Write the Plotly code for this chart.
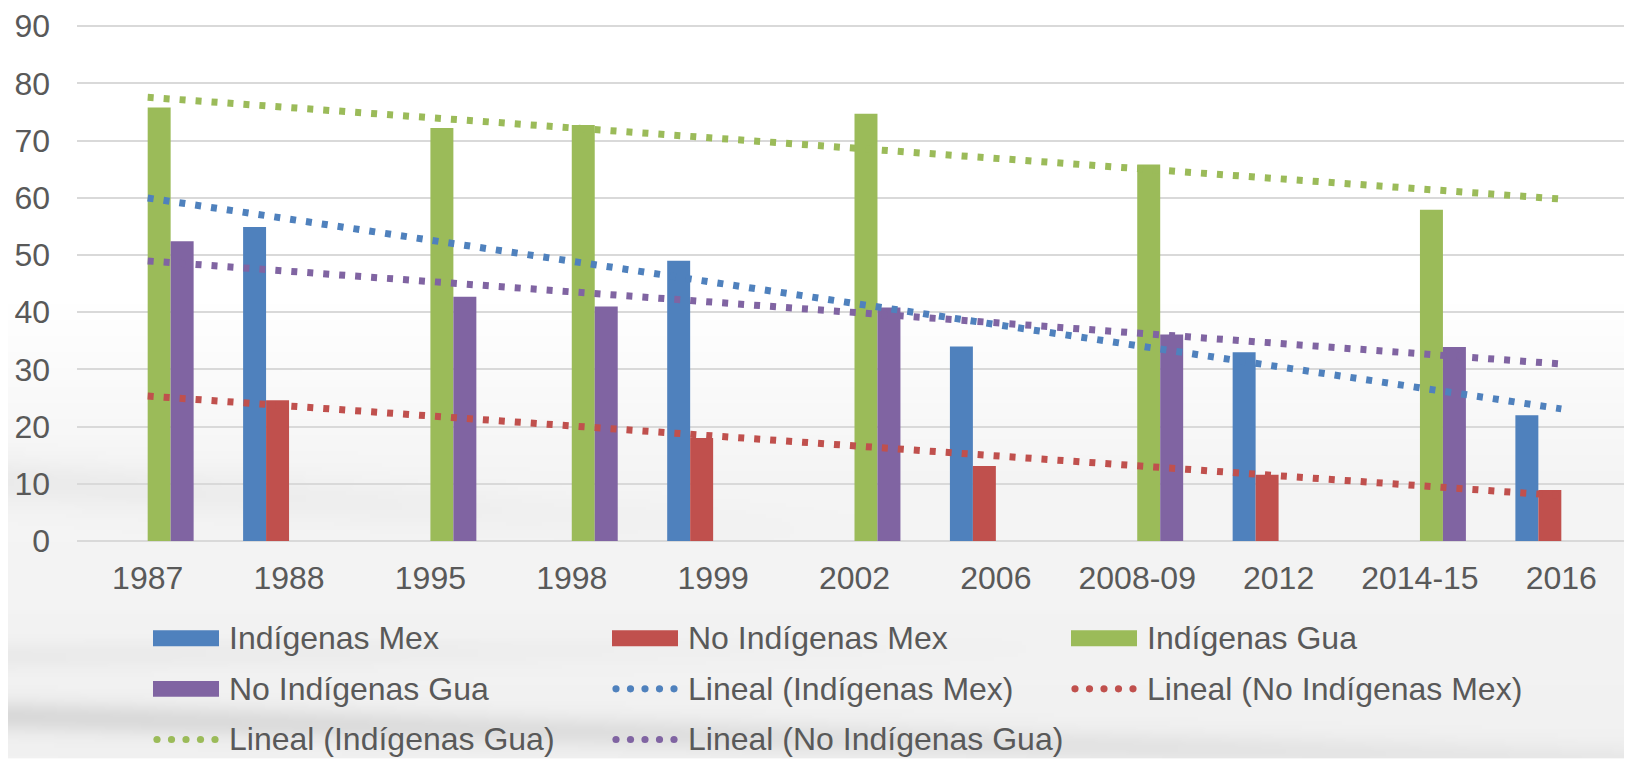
import base64
import struct
import zlib

import numpy as np
import plotly.graph_objects as go

# ---------------- data ----------------
categories = ["1987", "1988", "1995", "1998", "1999", "2002", "2006",
              "2008-09", "2012", "2014-15", "2016"]
indigenas_mex = [None, 54.9, None, None, 49.0, None, 34.0, None, 33.0, None, 22.0]
no_indigenas_mex = [None, 24.6, None, None, 18.0, None, 13.1, None, 11.6, None, 8.9]
indigenas_gua = [75.8, None, 72.2, 72.7, None, 74.7, None, 65.8, None, 57.9, None]
no_indigenas_gua = [52.4, None, 42.7, 41.0, None, 40.8, None, 36.1, None, 33.9, None]

series_names = ["Indígenas Mex", "No Indígenas Mex", "Indígenas Gua", "No Indígenas Gua"]
series_values = [indigenas_mex, no_indigenas_mex, indigenas_gua, no_indigenas_gua]
series_colors = ["#4F81BD", "#C0504D", "#9BBB59", "#8064A2"]
y_ticks = [0, 10, 20, 30, 40, 50, 60, 70, 80, 90]

# ---------------- geometry helpers ----------------
OFF = 8                      # default page body margin
W, H = 1632 - OFF, 760 - OFF
ML, MR, MT, MB = 69, 0, 13, 219
PW, PH = W - ML - MR, H - MT - MB
PLOT_LEFT = OFF + ML
PLOT_BOTTOM = OFF + H - MB
TEXT = "#595959"
FONT = "Liberation Sans, Arial, sans-serif"


def px_x(px):
    return (px - PLOT_LEFT) / PW


def px_y(py):
    return (PLOT_BOTTOM - py) / PH


# ---------------- background image (smooth gray swoosh) ----------------
def make_bg(w, h, scale):
    rows = []
    for j in range(h):
        y = OFF + j * scale
        if y < 300:
            base = 255.0
        elif y < 470:
            base = 255.0 - 10.0 * (y - 300) / 170.0
        else:
            base = 245.0 - 4.0 * (y - 470) / 290.0
        row = bytearray()
        for i in range(w):
            x = OFF + i * scale
            v = base
            yc1 = 715 + 0.028 * x
            v -= 24.0 * max(0.0, 1 - x / 2600) * np.exp(-((y - yc1) / 16.0) ** 2)
            yc2 = 478 + 0.06 * x
            v -= 10.0 * max(0.0, 1 - x / 900) * np.exp(-((y - yc2) / 22.0) ** 2)
            yc3 = 655 - 0.01 * x
            v -= 8.0 * max(0.0, 1 - x / 1100) * np.exp(-((y - yc3) / 14.0) ** 2)
            row.append(int(max(0, min(255, v))))
        rows.append(bytes(row))
    raw = b"".join(b"\x00" + r for r in rows)

    def chunk(tag, data):
        c = struct.pack(">I", len(data)) + tag + data
        return c + struct.pack(">I", zlib.crc32(tag + data) & 0xFFFFFFFF)

    png = b"\x89PNG\r\n\x1a\n"
    png += chunk(b"IHDR", struct.pack(">IIBBBBB", w, h, 8, 0, 0, 0, 0))
    png += chunk(b"IDAT", zlib.compress(raw, 9))
    png += chunk(b"IEND", b"")
    return "data:image/png;base64," + base64.b64encode(png).decode()


bg_src = make_bg(W // 4, H // 4, 4)

# ---------------- figure ----------------
fig = go.Figure()

for name, vals, col in zip(series_names, series_values, series_colors):
    fig.add_trace(go.Bar(x=categories, y=vals, name=name, marker_color=col,
                         marker_line_width=0, showlegend=False))

for name, vals, col in zip(series_names, series_values, series_colors):
    idx = [i for i, v in enumerate(vals) if v is not None]
    ys = [vals[i] for i in idx]
    slope, intercept = np.polyfit(idx, ys, 1)
    xs = [0, len(categories) - 1]
    fig.add_trace(go.Scatter(
        x=[categories[k] for k in xs],
        y=[intercept + slope * k for k in xs],
        mode="lines", name=f"Lineal ({name})",
        line=dict(color=col, width=7, dash="6px,10px"),
        showlegend=False))

# ---------------- custom legend ----------------
legend_entries = [(n, c, "bar") for n, c in zip(series_names, series_colors)] + \
                 [(f"Lineal ({n})", c, "dot") for n, c in zip(series_names, series_colors)]
col_x = [153, 612, 1071]
row_y = [639, 690, 741]
sym_w = 66
shapes = []
annotations = []
for k, (label, col, kind) in enumerate(legend_entries):
    cx = col_x[k % 3]
    cy = row_y[k // 3]
    if kind == "bar":
        shapes.append(dict(type="rect", xref="paper", yref="paper",
                           x0=px_x(cx), x1=px_x(cx + sym_w),
                           y0=px_y(cy + 8), y1=px_y(cy - 8),
                           fillcolor=col, line_width=0, layer="above"))
    else:
        for d in range(5):
            dx = cx + 4 + d * 14.5
            shapes.append(dict(type="circle", xref="paper", yref="paper",
                               x0=px_x(dx - 3.6), x1=px_x(dx + 3.6),
                               y0=px_y(cy + 3.6), y1=px_y(cy - 3.6),
                               fillcolor=col, line_width=0, layer="above"))
    annotations.append(dict(text=label, xref="paper", yref="paper",
                            x=px_x(cx + 74), y=px_y(cy), xanchor="left",
                            yanchor="middle", showarrow=False,
                            font=dict(size=32, color=TEXT, family=FONT)))

fig.update_layout(
    width=W, height=H,
    margin=dict(l=ML, r=MR, t=MT, b=MB, pad=0),
    paper_bgcolor="white",
    plot_bgcolor="rgba(0,0,0,0)",
    barmode="group", bargap=0.35, bargroupgap=0,
    showlegend=False,
    font=dict(family=FONT, color=TEXT),
    shapes=shapes,
    annotations=annotations,
    images=[dict(source=bg_src, xref="paper", yref="paper",
                 x=px_x(OFF), y=px_y(OFF), sizex=W / PW, sizey=H / PH,
                 xanchor="left", yanchor="top", sizing="stretch",
                 layer="below")],
)
fig.update_xaxes(type="category", categoryorder="array", categoryarray=categories,
                 showgrid=False, showline=False, ticks="",
                 tickfont=dict(size=32, color=TEXT, family=FONT),
                 ticklabelstandoff=15, ticklabeloverflow="allow")
fig.update_yaxes(range=[0, 90.2], tickvals=y_ticks, showgrid=True,
                 gridcolor="#D9D9D9", gridwidth=1.6,
                 zeroline=True, zerolinecolor="#D9D9D9", zerolinewidth=1.6,
                 showline=False, ticks="",
                 tickfont=dict(size=32, color=TEXT, family=FONT),
                 ticklabelstandoff=26, ticklabeloverflow="allow")

fig.write_html("out.html")
